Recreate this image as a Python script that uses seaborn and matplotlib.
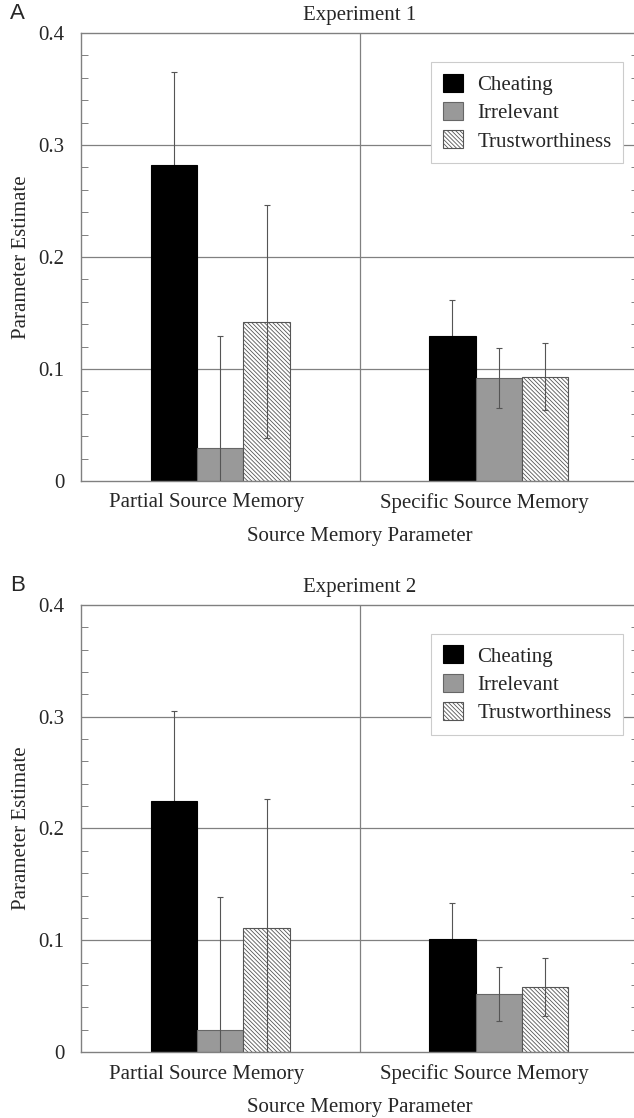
import pandas as pd
import numpy as np
import matplotlib
matplotlib.use('Agg')
import matplotlib.pyplot as plt
import matplotlib.transforms as mtransforms
import seaborn as sns

# Values
params = ['Partial Source Memory', 'Specific Source Memory']
conditions = ['Cheating', 'Irrelevant', 'Trustworthiness']

exp1_est = {'Cheating': [0.282, 0.129], 'Irrelevant': [0.029, 0.092], 'Trustworthiness': [0.142, 0.093]}
exp1_err = {'Cheating': [0.083, 0.033], 'Irrelevant': [0.100, 0.027], 'Trustworthiness': [0.104, 0.030]}
exp2_est = {'Cheating': [0.225, 0.101], 'Irrelevant': [0.020, 0.052], 'Trustworthiness': [0.111, 0.058]}
exp2_err = {'Cheating': [0.080, 0.032], 'Irrelevant': [0.119, 0.024], 'Trustworthiness': [0.115, 0.026]}

yticks = [0, 0.1, 0.2, 0.3, 0.4]
ytick_labels = ['0', '0.1', '0.2', '0.3', '0.4']

sns.set_style('white')
plt.rcParams['font.family'] = ['Liberation Serif', 'DejaVu Serif']
plt.rcParams['hatch.linewidth'] = 0.6

colors = ['black', '#999999', 'white']
edges = ['black', '#666666', '#555555']
line_gray = '#808080'
fs = 15


def long_df(est, err):
    rows = []
    for c in conditions:
        for i, p in enumerate(params):
            rows.append({'param': p, 'cond': c, 'est': est[c][i], 'err': err[c][i]})
    return pd.DataFrame(rows)


def draw_panel(fig, ax, df, title, letter):
    sns.barplot(data=df, x='param', y='est', hue='cond', order=params, hue_order=conditions,
                palette=colors, width=0.5, errorbar=None, ax=ax, legend=False, zorder=2)
    bar_conts = list(ax.containers)
    for k, cont in enumerate(bar_conts):
        sub = df[df['cond'] == conditions[k]].set_index('param').loc[params]
        for bar, (_, r) in zip(cont.patches, sub.iterrows()):
            bar.set_edgecolor(edges[k])
            bar.set_linewidth(0.8)
            if conditions[k] == 'Trustworthiness':
                bar.set_hatch('\\\\\\\\\\\\\\\\')
            x = bar.get_x() + bar.get_width() / 2
            # error bars sit behind the black bars, over the others
            z = 1.5 if conditions[k] == 'Cheating' else 3
            ax.errorbar(x, r['est'], yerr=r['err'], color='#555555', lw=0.8,
                        capsize=2.5, capthick=0.8, zorder=z)
    ax.set_xlim(-0.5, 1.5)
    ax.set_ylim(0, 0.4)
    ax.set_yticks(yticks)
    ax.set_yticklabels(ytick_labels)
    ax.set_yticks(np.arange(0, 0.41, 0.02), minor=True)
    ax.tick_params(axis='y', which='major', length=0, labelsize=fs, pad=12)
    ax.tick_params(axis='y', which='minor', direction='in', length=5, width=0.7,
                   color=line_gray, left=True, right=True)
    ax.tick_params(axis='x', length=0, labelsize=fs, pad=9)
    # category labels in the original sit a little left of the bar groups
    shift = mtransforms.ScaledTranslation(-14 / 100, 0, fig.dpi_scale_trans)
    for lab in ax.get_xticklabels():
        lab.set_transform(lab.get_transform() + shift)
    for y in yticks[1:-1]:
        ax.axhline(y, color=line_gray, lw=0.9, zorder=1)
    ax.axvline(0.5, color=line_gray, lw=0.9, zorder=1)
    for s in ax.spines.values():
        s.set_color(line_gray)
        s.set_linewidth(1.0)
    ax.set_xlabel('Source Memory Parameter', fontsize=fs, labelpad=10)
    ax.set_ylabel('Parameter Estimate', fontsize=fs, labelpad=5)
    ax.set_title(title, fontsize=fs, pad=9)
    leg = ax.legend(bar_conts, conditions, loc='upper right', bbox_to_anchor=(0.973, 0.935),
                    borderaxespad=0, fontsize=fs, frameon=True, fancybox=False,
                    edgecolor='#cccccc', handlelength=0.95, handleheight=0.95,
                    handletextpad=0.7, labelspacing=0.35, borderpad=0.55, framealpha=1)
    leg.get_frame().set_linewidth(0.8)
    leg.set_zorder(5)
    ax.text(-0.128, 1.043, letter, transform=ax.transAxes, fontsize=16,
            family=['Liberation Sans', 'DejaVu Sans'], ha='left', va='center')


fig = plt.figure(figsize=(6.34, 11.18), dpi=100)
ax1 = fig.add_axes([0.1278, 0.5698, 0.8785, 0.4007])
ax2 = fig.add_axes([0.1278, 0.0590, 0.8785, 0.3999])

draw_panel(fig, ax1, long_df(exp1_est, exp1_err), 'Experiment 1', 'A')
draw_panel(fig, ax2, long_df(exp2_est, exp2_err), 'Experiment 2', 'B')

fig.savefig('out.png', dpi=100)
